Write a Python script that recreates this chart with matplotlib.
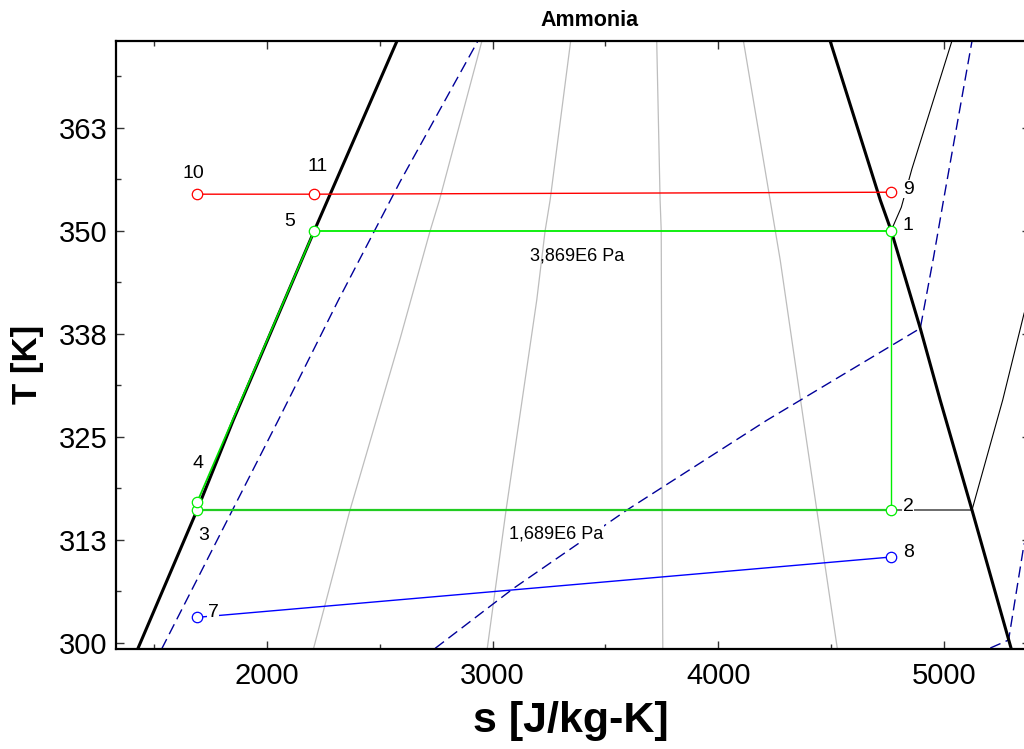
import matplotlib
matplotlib.use("Agg")
import matplotlib.pyplot as plt
from matplotlib.ticker import MultipleLocator

plt.rcParams['font.family'] = ['Liberation Sans', 'DejaVu Sans']

# saturation dome
liq_s = [1429, 1692, 1852, 2211, 2577]
liq_T = [299.24, 316.1, 327.0, 350.0, 373.0]
vap_s = [4495, 4717, 4765, 4894, 4982, 5123, 5297]
vap_T = [373.0, 353.7, 350.0, 338.15, 329.45, 316.1, 299.24]

# constant quality lines (light grey)
q1_s = [2207, 2369, 2591, 2724, 2765, 2953]
q1_T = [299.24, 316.1, 336.9, 350.0, 353.7, 373.0]
q2_s = [2977, 3060, 3196, 3233, 3255, 3346]
q2_T = [299.36, 316.1, 341.6, 350.0, 353.7, 373.0]
q3_s = [3754, 3751, 3747, 3742, 3727]
q3_T = [299.24, 316.1, 350.0, 353.7, 373.0]
q4_s = [4527, 4377, 4274, 4111]
q4_T = [299.24, 327.0, 346.4, 373.0]

# dashed blue lines
d1_s = [1535, 2052, 2318, 2591, 2935]
d1_T = [299.24, 327.03, 341.59, 355.95, 373.0]
d2_s = [2746, 3093, 3595, 4215, 4894, 4953, 4997, 5123]
d2_T = [299.32, 306.6, 316.1, 327.0, 338.15, 346.8, 353.7, 373.0]
d3_s = [5204, 5285, 5354]
d3_T = [299.36, 300.33, 312.06]

# isobars
hi_s = [4765, 4810, 4857, 5034]
hi_T = [350.0, 352.83, 357.49, 373.0]
lo_tp_s = [1692, 5123]
lo_tp_T = [316.1, 316.1]
lo_s = [5123, 5259, 5354]
lo_T = [316.1, 329.45, 340.0]

# state points
pt_s = {'1': 4765, '2': 4765, '3': 1692, '4': 1692, '5': 2211,
        '7': 1692, '8': 4765, '9': 4765, '10': 1692, '11': 2211}
pt_T = {'1': 350.0, '2': 316.1, '3': 316.1, '4': 317.04, '5': 350.0,
        '7': 303.08, '8': 310.4, '9': 354.66, '10': 354.42, '11': 354.42}

yticks = [300, 312.5, 325, 337.5, 350, 362.5]
ylabels = ['300', '313', '325', '338', '350', '363']
xticks = [2000, 3000, 4000, 5000]

fig = plt.figure(figsize=(10.24, 7.49), dpi=100)
ax = fig.add_axes([0.1133, 0.1335, 0.8926, 0.8117])
ax.set_xlim(1333, 5380)
ax.set_ylim(299.24, 373.0)

grey = '#bdbdbd'
for s, T in [(q1_s, q1_T), (q2_s, q2_T), (q3_s, q3_T), (q4_s, q4_T)]:
    ax.plot(s, T, color=grey, lw=0.9, zorder=1)

navy = '#000099'
for s, T in [(d1_s, d1_T), (d2_s, d2_T), (d3_s, d3_T)]:
    ax.plot(s, T, color=navy, lw=1.0, dashes=(8, 4), zorder=2)

ax.plot(lo_tp_s, lo_tp_T, color='#606060', lw=1.3, zorder=2)
ax.plot(lo_s, lo_T, color='black', lw=0.8, zorder=2)
ax.plot(hi_s, hi_T, color='black', lw=0.8, zorder=2)

ax.plot(liq_s, liq_T, color='black', lw=2.2, zorder=3)
ax.plot(vap_s, vap_T, color='black', lw=2.2, zorder=3)

# cycle
ax.plot([pt_s['3'], pt_s['2']], [pt_T['3'], pt_T['2']], color='#22cc22', lw=1.6, zorder=4)
ax.plot([pt_s['2'], pt_s['1']], [pt_T['2'], pt_T['1']], color='#00ee00', lw=1.0, zorder=4)
ax.plot([pt_s['1'], pt_s['5']], [pt_T['1'], pt_T['5']], color='#00ee00', lw=1.3, zorder=4)
ax.plot([pt_s['5'], pt_s['4']], [pt_T['5'], pt_T['4']], color='#00dd00', lw=1.3, zorder=4)
# heat source and sink
ax.plot([pt_s[k] for k in ['10', '11', '9']], [pt_T[k] for k in ['10', '11', '9']],
        color='#ff0000', lw=1.0, zorder=4)
ax.plot([pt_s['7'], pt_s['8']], [pt_T['7'], pt_T['8']], color='#0000ff', lw=1.0, zorder=4)

colors = {'1': '#00ee00', '2': '#00ee00', '3': '#00ee00', '4': '#00ee00', '5': '#00ee00',
          '7': '#0000ff', '8': '#0000ff', '9': '#ff0000', '10': '#ff0000', '11': '#ff0000'}
offsets = {'1': (17, 5), '2': (17, 4), '3': (7, -25), '4': (1, 39), '5': (-25, 9),
           '7': (16, 5), '8': (17, 5), '9': (17, 3), '10': (-4, 21), '11': (3, 28)}
for k in pt_s:
    ax.plot(pt_s[k], pt_T[k], 'o', ms=7.5, mfc='white', mec=colors[k], mew=0.9, zorder=5)
    bb = dict(facecolor='white', edgecolor='none', pad=0.5) if k in ('2', '7', '9') else None
    ax.annotate(k, (pt_s[k], pt_T[k]), xytext=offsets[k], textcoords='offset pixels',
                ha='center', va='center', fontsize=14, bbox=bb, zorder=6)

ax.text(3375, 346.9, '3,869E6 Pa', ha='center', va='center', fontsize=13, zorder=6)
ax.text(3282, 313.2, '1,689E6 Pa', ha='center', va='center', fontsize=13, zorder=6,
        bbox=dict(facecolor='white', edgecolor='none', pad=0.5))

ax.set_xticks(xticks)
ax.set_xticklabels([str(v) for v in xticks])
ax.set_yticks(yticks)
ax.set_yticklabels(ylabels)
ax.xaxis.set_minor_locator(MultipleLocator(500))
ax.yaxis.set_minor_locator(MultipleLocator(6.25))
ax.tick_params(which='both', direction='in', top=True, right=True, color='#333333',
               labelsize=21, width=1.0)
ax.tick_params(which='major', length=6)
ax.tick_params(which='minor', length=3.5)
ax.tick_params(axis='y', pad=6)
ax.tick_params(axis='x', pad=9)
for sp in ax.spines.values():
    sp.set_linewidth(1.6)

fig.text(0.576, 0.972, 'Ammonia', ha='center', va='center', fontsize=15.5, fontweight='bold')
fig.text(0.557, 0.037, 's [J/kg-K]', ha='center', va='center', fontsize=31, fontweight='bold')
fig.text(0.027, 0.513, 'T [K]', ha='center', va='center', fontsize=25, fontweight='bold',
         rotation=90)

fig.savefig('out.png', dpi=100)
